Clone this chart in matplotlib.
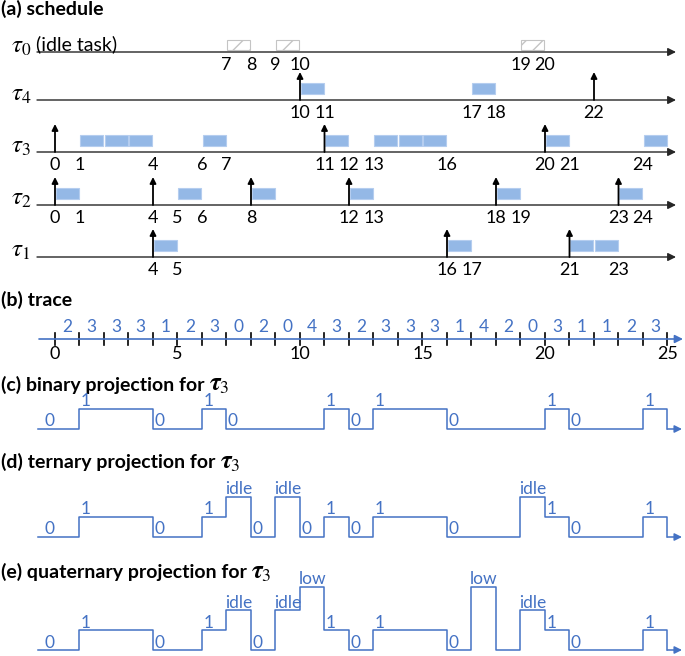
import numpy as np
import matplotlib.pyplot as plt
from matplotlib.patches import Rectangle

plt.rcParams['font.family'] = ['Lato', 'DejaVu Sans']
plt.rcParams['mathtext.fontset'] = 'stix'
plt.rcParams['hatch.linewidth'] = 1.0

# task running in each time slot 0..24 (0 = idle task)
trace = [2, 3, 3, 3, 1, 2, 3, 0, 2, 0, 4, 3, 2, 3, 3, 3, 1, 4, 2, 0, 3, 1, 1, 2, 3]

task_order = [0, 4, 3, 2, 1]
releases = {0: [], 4: [10, 22], 3: [0, 11, 20], 2: [0, 4, 8, 12, 18, 23], 1: [4, 16, 21]}
time_labels = {
    0: [7, 8, 9, 10, 19, 20],
    4: [10, 11, 17, 18, 22],
    3: [0, 1, 4, 6, 7, 11, 12, 13, 16, 20, 21, 24],
    2: [0, 1, 4, 5, 6, 8, 12, 13, 18, 19, 23, 24],
    1: [4, 5, 16, 17, 21, 23],
}
trace_ticks = [0, 5, 10, 15, 20, 25]

binary = ['0', '1', '1', '1', '0', '0', '1', '0', '0', '0', '0', '1', '0',
          '1', '1', '1', '0', '0', '0', '0', '1', '0', '0', '0', '1']
ternary = ['0', '1', '1', '1', '0', '0', '1', 'idle', '0', 'idle', '0', '1', '0',
           '1', '1', '1', '0', '0', '0', 'idle', '1', '0', '0', '0', '1']
quaternary = ['0', '1', '1', '1', '0', '0', '1', 'idle', '0', 'idle', 'low', '1', '0',
              '1', '1', '1', '0', 'low', '0', 'idle', '1', '0', '0', '0', '1']

# layout (pixels)
W, H = 685, 656
X0, SCALE = 55, 24.5
BLUE = '#4472c4'
FS = 13        # black numbers
TFS = 14       # section titles
LFS = 12.5     # blue labels
task_rows = {0: 52, 4: 100, 3: 152, 2: 205, 1: 257}
levels = {'0': 0, '1': 20, 'idle': 40, 'low': 63}


def px(x):
    return (x - X0) / SCALE


def arrow(ax, x0, y0, x1, y1, color, lw=1.0, ms=12):
    ax.annotate('', xy=(x1, y1), xytext=(x0, y0),
                arrowprops=dict(arrowstyle='-|>', color=color, lw=lw,
                                mutation_scale=ms, shrinkA=0, shrinkB=0))


def title(ax, y, text, tau=False):
    t = ax.text(px(1), y, text, fontsize=TFS, fontweight='bold', va='center')
    if tau:
        ax.annotate(r'$\mathbfit{\tau}_3$', xy=(1, 0.5), xycoords=t, xytext=(3, 0),
                    textcoords='offset points', fontsize=18, va='center')


fig = plt.figure(figsize=(W / 100, H / 100), dpi=100)
ax = fig.add_axes([0, 0, 1, 1])
ax.set_xlim(px(0), px(W))
ax.set_ylim(H, 0)
ax.axis('off')

# (a) schedule
title(ax, 9, '(a) schedule')
for k in task_order:
    y = task_rows[k]
    arrow(ax, px(37), y, px(676), y, '#262626', lw=1.0, ms=12)
    ax.text(px(11), y - 6, r'$\tau_%d$' % k, fontsize=18, va='center')
    if k == 0:
        ax.text(px(36), y - 8, '(idle task)', fontsize=TFS, va='center')
    for t, task in enumerate(trace):
        if task != k:
            continue
        if k == 0:
            ax.add_patch(Rectangle((t + 0.03, y - 12), 0.94, 10, facecolor='white',
                                   edgecolor='#c4c4c4', hatch='//', lw=0.8))
        else:
            ax.add_patch(Rectangle((t + 0.03, y - 17), 0.94, 11, facecolor='#94b8e6',
                                   edgecolor='#b5cdef', lw=0.8))
    for r in releases[k]:
        arrow(ax, r, y, r, y - 28, 'black', lw=1.3, ms=9)
    for t in time_labels[k]:
        ax.text(t, y + 13, str(t), ha='center', va='center', fontsize=FS)

# (b) trace
ty = 339
title(ax, 300, '(b) trace')
arrow(ax, px(39), ty, px(683), ty, BLUE, lw=1.2, ms=12)
for t in range(len(trace) + 1):
    ax.plot([t, t], [ty - 6, ty + 6], color='black', lw=1.2)
for t, v in enumerate(trace):
    ax.text(t + 0.5, ty - 7, str(v), ha='center', va='baseline', color=BLUE, fontsize=LFS)
for t in trace_ticks:
    ax.text(t, ty + 15, str(t), ha='center', va='center', fontsize=FS)


def projection(seq, base, text, title_y, skip=()):
    title(ax, title_y, text, tau=True)
    xs = [px(38)]
    ys = [base - levels[seq[0]]]
    for t, s in enumerate(seq):
        xs += [t, t + 1]
        ys += [base - levels[s]] * 2
    xs.append(len(seq))
    ys.append(base)
    ax.plot(xs, ys, color=BLUE, lw=1.1)
    arrow(ax, len(seq), base, px(682), base, BLUE, lw=1.1, ms=11)
    for t, s in enumerate(seq):
        if (t > 0 and seq[t - 1] == s) or t in skip:
            continue
        ly = base - levels[s] - 2.5
        if s in ('0', '1'):
            lx = px(45) if t == 0 else t + 1.5 / SCALE
            ax.text(lx, ly, s, ha='left', va='baseline', color=BLUE, fontsize=LFS)
        else:
            ax.text(t + 0.5, ly, s, ha='center', va='baseline', color=BLUE, fontsize=LFS)


projection(binary, 429, '(c) binary projection for', 385)
projection(ternary, 537, '(d) ternary projection for', 462)
projection(quaternary, 650, '(e) quaternary projection for', 572, skip=(18,))

fig.savefig('out.png', dpi=100)
